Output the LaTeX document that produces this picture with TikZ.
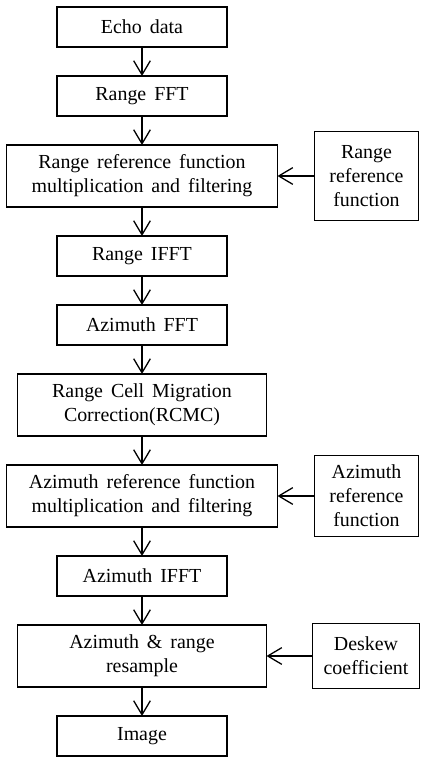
\documentclass[tikz,border=0pt]{standalone}
\usepackage{fontspec}
\setmainfont{Liberation Serif}
\usepackage{tikz}
\usetikzlibrary{arrows.meta, positioning}
\protected\def\boxfont{\fontsize{17}{20.5}\selectfont\spaceskip=0.4em\relax}

\begin{document}
\begin{tikzpicture}[
    node distance=0.87cm,
    box/.style={rectangle, draw, line width=1.4pt, align=center, outer sep=0pt,
        minimum width=5.1cm, minimum height=1.2cm, inner sep=2pt,
        font=\boxfont},
    widebox/.style={box, minimum width=8.13cm, minimum height=1.86cm},
    midbox/.style={box, minimum width=7.47cm, minimum height=1.86cm},
    sidebox/.style={box, minimum width=3.12cm},
    arrow/.style={line width=1.1pt, -{Straight Barb[length=0.42cm, width=0.5cm, line width=1.1pt]}}
]
    \useasboundingbox (0,0) rectangle (12.63,-22.74);

    % Main column
    \node[box] (echo) at (4.26,-0.81) {Echo data};
    \node[box, below=of echo] (rfft) {Range FFT};
    \node[widebox, below=of rfft] (rmult) {Range reference function\\multiplication and filtering};
    \node[box, below=of rmult] (rifft) {Range IFFT};
    \node[box, below=of rifft] (afft) {Azimuth FFT};
    \node[midbox, below=of afft] (rcmc) {Range Cell Migration\\Correction(RCMC)};
    \node[widebox, below=of rcmc] (amult) {Azimuth reference function\\multiplication and filtering};
    \node[box, below=of amult] (aifft) {Azimuth IFFT};
    \node[midbox, below=of aifft] (resample) {Azimuth \& range\\resample};
    \node[box, below=of resample] (image) {Image};

    % Side inputs
    \node[sidebox, minimum height=2.67cm, right=1.11cm of rmult] (rref) {Range\\reference\\function};
    \node[sidebox, minimum height=2.43cm, right=1.11cm of amult] (aref) {Azimuth\\reference\\function};
    \node[sidebox, minimum width=3.21cm, minimum height=1.95cm, right=1.38cm of resample] (deskew) {Deskew\\coefficient};

    % Arrows
    \draw[arrow] (echo) -- (rfft);
    \draw[arrow] (rfft) -- (rmult);
    \draw[arrow] (rmult) -- (rifft);
    \draw[arrow] (rifft) -- (afft);
    \draw[arrow] (afft) -- (rcmc);
    \draw[arrow] (rcmc) -- (amult);
    \draw[arrow] (amult) -- (aifft);
    \draw[arrow] (aifft) -- (resample);
    \draw[arrow] (resample) -- (image);
    \draw[arrow] (rref) -- (rmult);
    \draw[arrow] (aref) -- (amult);
    \draw[arrow] (deskew) -- (resample);
\end{tikzpicture}
\end{document}
